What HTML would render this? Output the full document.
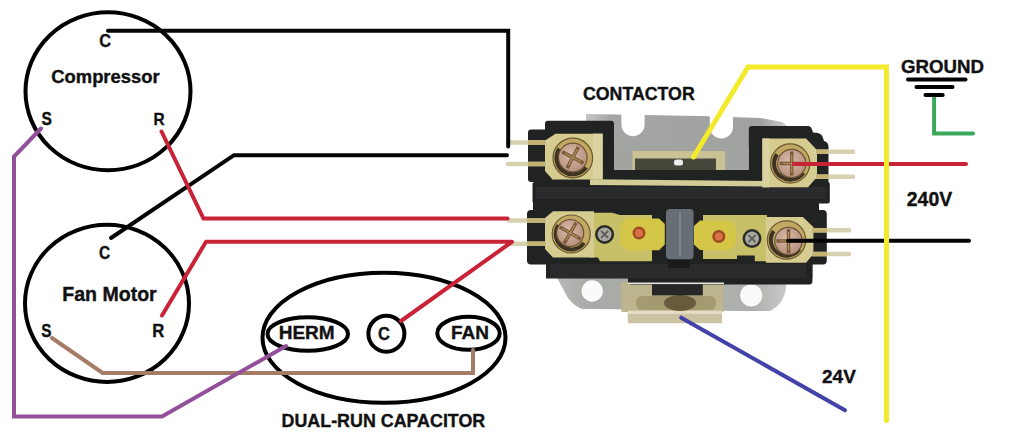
<!DOCTYPE html>
<html><head><meta charset="utf-8"><style>
html,body{margin:0;padding:0;background:#fff;}
svg{display:block;}
text{font-family:"Liberation Sans",sans-serif;font-weight:bold;font-size:100px;fill:#111;stroke:#111;stroke-width:2px;}
</style></head><body>
<svg width="1022" height="442" viewBox="0 0 1022 442">
<rect width="1022" height="442" fill="#fff"/>
<!-- CONTACTOR -->
<!--C-START-->
<g id="contactor">
<defs>
<radialGradient id="wash" cx="0.5" cy="0.5" r="0.5">
<stop offset="0.70" stop-color="#4A3A26"/><stop offset="0.80" stop-color="#B89A52"/><stop offset="0.92" stop-color="#C4A860"/><stop offset="1" stop-color="#4A3C22"/>
</radialGradient>
<radialGradient id="head" cx="0.45" cy="0.4" r="0.6">
<stop offset="0" stop-color="#D8BAAA"/><stop offset="1" stop-color="#B8907E"/>
</radialGradient>
<linearGradient id="grayTop" x1="0" y1="0" x2="1" y2="0">
<stop offset="0" stop-color="#C4C6C4"/><stop offset="0.12" stop-color="#A4A6A4"/><stop offset="0.85" stop-color="#A0A29F"/><stop offset="1" stop-color="#D0D2D0"/>
</linearGradient>
<linearGradient id="grayBot" x1="0" y1="0" x2="1" y2="0">
<stop offset="0" stop-color="#B8B8B6"/><stop offset="0.15" stop-color="#A8AAA8"/><stop offset="0.85" stop-color="#AEB0AE"/><stop offset="1" stop-color="#C8C8C6"/>
</linearGradient>
</defs>
<!-- gray mounting plate top -->
<path fill="url(#grayTop)" d="M586,114 L700,116 L760,118 L782,122 L792,130 L792,176 L586,176 Z"/>
<path fill="#fff" d="M621.4,108 V124.6 A11.6,11.6 0 0 0 644.6,124.6 V108 Z"/>
<path fill="#fff" d="M709.8,108 V126.9 A11.6,11.6 0 0 0 733,126.9 V108 Z"/>
<!-- gray mounting plate bottom -->
<path fill="url(#grayBot)" d="M556,276 L786,276 L786,288 Q784,304 770,311 L736,311 L600,309 L582,309 Q574,306 568,298 Z"/>
<circle fill="#fafafa" cx="592.2" cy="291" r="10.7"/>
<circle fill="#fafafa" cx="751.2" cy="295.4" r="11"/>
<!-- bottom coil bracket -->
<rect x="621.4" y="282" width="101.8" height="30" fill="#BDB58E"/>
<rect x="627.8" y="310" width="94.2" height="13.2" fill="#CAC2A0"/>
<rect x="627.8" y="311" width="94.2" height="3" fill="#E2DCC4"/>
<rect x="636" y="296" width="80" height="14" rx="6" fill="#A49A70"/>
<ellipse cx="680" cy="303" rx="16" ry="8" fill="#6A5A3C"/>
<rect x="652" y="284" width="50.8" height="11.4" fill="#262626"/>
<!-- black housing -->
<g fill="#212322">
<rect x="528" y="129.5" width="24" height="52.5" rx="3"/>
<rect x="545" y="120.8" width="69" height="61.2" rx="3"/>
<rect x="600" y="169.5" width="162" height="14"/>
<path d="M748.8,129 Q748.8,126 752,126 L808,126 Q811,126 812,129.5 L813,132.5 L818,133 Q822,134 823,138 L824,141 Q828.5,142 828.5,147 L828.5,188 Q828.5,191 825,191 L748.8,191 Z"/>
<rect x="532.5" y="182" width="297.3" height="21.6" rx="2"/>
<rect x="533" y="200" width="286" height="13"/>
<rect x="527" y="210" width="299.8" height="54.6" rx="4"/>
<rect x="546" y="250" width="266.4" height="28.5"/>
<rect x="628" y="250" width="184.4" height="34.5" rx="3"/>
</g>
<g fill="#292B2C">
<rect x="536" y="187" width="290" height="12"/>
<rect x="550" y="264" width="256" height="14"/>
</g>
<rect x="668" y="256" width="22" height="12" rx="3" fill="#1A1A1A"/>
<rect x="628" y="282.5" width="96" height="1.6" fill="#E4E4DC"/>
<!-- upper inner gray + coil bracket -->
<rect x="614" y="146" width="134.8" height="24" fill="#A2A4A1"/>
<rect x="632.5" y="151" width="92.5" height="19" fill="#C8C294"/>
<rect x="635" y="158.5" width="81" height="11.5" fill="#46463A"/>
<rect x="674" y="159.5" width="9" height="6" rx="2.5" fill="#EDEDED"/>
<!-- brass strip along U bottom -->
<path fill="#D2CC98" d="M590,179.2 L766,181 L766,186.4 L590,185 Z"/>
<!-- upper-left terminal -->
<path fill="#D6CC90" d="M555.6,133.7 L602.6,133.7 L602.6,179.4 L552.5,179.4 L545,171 L545,140.6 Z"/>
<rect x="593" y="133.7" width="9.6" height="45.7" fill="#DAD3A0"/>
<circle cx="572.8" cy="158" r="19.8" fill="#C2A862" stroke="#6A5830" stroke-width="1.2"/>
<path d="M556.5,158 A16.3,16.3 0 0 0 589.0999999999999,158" fill="none" stroke="#3E3222" stroke-width="4" transform="rotate(35 572.8 158)"/>
<circle cx="572.8" cy="157.5" r="14.3" fill="url(#head)" stroke="#6A5434" stroke-width="1.2"/>
<g transform="translate(572.8 157.5) rotate(28)" stroke-linecap="butt"><path d="M-12,0 H12 M0,-12 V12" stroke="#7A5A38" stroke-width="3.5"/><path d="M-9,0 H9 M0,-9 V9" stroke="#B09058" stroke-width="1.2"/></g>
<!-- upper-right terminal -->
<path fill="#D6CC90" d="M762.4,138.5 L806,138.5 L817,150 L817,177 L808,187.3 L762.4,187.3 Z"/>
<rect x="762.4" y="138.5" width="7" height="48.8" fill="#DAD3A0"/>
<circle cx="790.2" cy="163.5" r="19.6" fill="#C2A862" stroke="#6A5830" stroke-width="1.2"/>
<path d="M774.1,163.5 A16.1,16.1 0 0 0 806.3000000000001,163.5" fill="none" stroke="#3E3222" stroke-width="4" transform="rotate(35 790.2 163.5)"/>
<circle cx="791.7" cy="163.5" r="14.100000000000001" fill="url(#head)" stroke="#6A5434" stroke-width="1.2"/>
<g transform="translate(791.7 163.5) rotate(0)" stroke-linecap="butt"><path d="M-12,0 H12 M0,-12 V12" stroke="#7A5A38" stroke-width="3.5"/><path d="M-9,0 H9 M0,-9 V9" stroke="#B09058" stroke-width="1.2"/></g>
<!-- lower-left terminal + strip -->
<path fill="#C8C068" d="M590,212.8 L612,212.8 L620,215 L652,215 L652,261.3 L600,261.3 L598,257.5 L590,257.5 Z"/>
<path fill="#D6CC90" d="M553,211.2 L594,211.2 L594,257.5 L553,257.5 L545,249 L545,218 Z"/>
<circle cx="571.2" cy="234" r="19" fill="#C2A862" stroke="#6A5830" stroke-width="1.2"/>
<path d="M555.7,234 A15.5,15.5 0 0 0 586.7,234" fill="none" stroke="#3E3222" stroke-width="4" transform="rotate(35 571.2 234)"/>
<circle cx="570.2" cy="233" r="13.5" fill="url(#head)" stroke="#6A5434" stroke-width="1.2"/>
<g transform="translate(570.2 233) rotate(30)" stroke-linecap="butt"><path d="M-12,0 H12 M0,-12 V12" stroke="#7A5A38" stroke-width="3.5"/><path d="M-9,0 H9 M0,-9 V9" stroke="#B09058" stroke-width="1.2"/></g>
<circle cx="604.6" cy="234.4" r="9.5" fill="#2A2A26"/>
<circle cx="604.6" cy="234.4" r="7" fill="#A8A8A0"/>
<path d="M599.6,234.4 H609.6 M604.6,229.4 V239.4" stroke="#5A5A56" stroke-width="1.8" transform="rotate(45 604.6 234.4)"/>
<path fill="#D4C646" d="M627,218.5 L659,218.5 L664.8,224 L664.8,244.5 L659,250.2 L627,250.2 L620.4,244.5 L620.4,224 Z"/>
<circle cx="639" cy="233" r="6.5" fill="#A04A22"/>
<circle cx="639" cy="233" r="4" fill="#D87048"/>
<!-- center button -->
<rect x="666" y="209" width="27.6" height="50.3" rx="4" fill="#686E76"/>
<rect x="679" y="212" width="2" height="44" fill="#80868C"/>
<!-- lower-right terminal + strip -->
<path fill="#C8C068" d="M703,215 L767,215 L767,261.2 L754.8,261.2 L754.8,255.4 L737,255.4 L737,259 L703,259 Z"/>
<path fill="#D6CC90" d="M765.8,217 L802.8,217 L813.4,227 L813.4,254 L806,262.8 L765.8,262.8 Z"/>
<circle cx="786.5" cy="240" r="19.2" fill="#C2A862" stroke="#6A5830" stroke-width="1.2"/>
<path d="M770.8,240 A15.7,15.7 0 0 0 802.2,240" fill="none" stroke="#3E3222" stroke-width="4" transform="rotate(35 786.5 240)"/>
<circle cx="788.5" cy="241" r="13.7" fill="url(#head)" stroke="#6A5434" stroke-width="1.2"/>
<g transform="translate(788.5 241) rotate(0)" stroke-linecap="butt"><path d="M-12,0 H12 M0,-12 V12" stroke="#7A5A38" stroke-width="3.5"/><path d="M-9,0 H9 M0,-9 V9" stroke="#B09058" stroke-width="1.2"/></g>
<circle cx="752" cy="238.6" r="9.5" fill="#2A2A26"/>
<circle cx="752" cy="238.6" r="7" fill="#A8A8A0"/>
<path d="M747.0,238.6 H757.0 M752,233.6 V243.6" stroke="#5A5A56" stroke-width="1.8" transform="rotate(45 752 238.6)"/>
<path fill="#D4C646" d="M700,220.5 L730,220.5 L735.7,226 L735.7,244.5 L730,250 L700,250 L694,244.5 L694,226 Z"/>
<circle cx="718.8" cy="236.4" r="6.5" fill="#A04A22"/>
<circle cx="718.8" cy="236.4" r="4" fill="#D87048"/>
<!-- pins -->
<g stroke="#D6D1AE" stroke-width="4.5" stroke-linecap="round">
<line x1="508" y1="142.5" x2="546" y2="142.5"/>
<line x1="508" y1="164" x2="546" y2="164"/>
<line x1="509" y1="220.6" x2="546" y2="220.6"/>
<line x1="509" y1="243.7" x2="546" y2="243.7"/>
<line x1="816" y1="151.7" x2="853" y2="151.7"/>
<line x1="816" y1="176.7" x2="853" y2="176.7"/>
<line x1="812" y1="230.2" x2="849" y2="230.2"/>
<line x1="812" y1="254.1" x2="849" y2="254.1"/>
</g>
<g stroke="#C4B474" stroke-width="4.5">
<line x1="528" y1="142.5" x2="546" y2="142.5"/>
<line x1="528" y1="164" x2="546" y2="164"/>
<line x1="527" y1="220.6" x2="546" y2="220.6"/>
<line x1="527" y1="243.7" x2="546" y2="243.7"/>
<line x1="816" y1="151.7" x2="828.5" y2="151.7"/>
<line x1="816" y1="176.7" x2="828.5" y2="176.7"/>
<line x1="812" y1="230.2" x2="827" y2="230.2"/>
<line x1="812" y1="254.1" x2="827" y2="254.1"/>
</g>
</g>
<!--C-END-->
<!-- circles -->
<g fill="none" stroke="#000" stroke-width="4">
<ellipse cx="108" cy="91.3" rx="82.5" ry="79"/>
<ellipse cx="107" cy="303.4" rx="82" ry="78.6"/>
<ellipse cx="384" cy="337.7" rx="121.5" ry="65"/>
<ellipse cx="307.75" cy="334" rx="40.25" ry="16.7"/>
<circle cx="386.4" cy="333.7" r="18"/>
<ellipse cx="468.5" cy="333.3" rx="31.2" ry="16.5"/>
</g>
<!-- wires -->
<g fill="none" stroke-width="4" stroke-linejoin="miter" stroke-linecap="round">
<polyline stroke="#050505" points="108,30.8 508.2,30.8 508.2,146.5"/>
<polyline stroke="#050505" points="111,238 234,155.2 507,155.2"/>
<polyline stroke="#C82336" points="161.5,131.5 203.5,218.6 507.5,218.6"/>
<polyline stroke="#C82336" stroke-linejoin="round" points="162,315.5 206,241.8 512,241.8 401,321"/>
<polyline stroke="#A57C66" points="52,338 102.6,373 473,373 473,350"/>
<polyline stroke="#93509A" points="41,128.5 14,156.5 14,416.5 162,416.5 286,346"/>
<polyline stroke="#C82336" points="793.7,164 966,164"/>
<polyline stroke="#050505" points="788,240.8 969,240.8"/>
<polyline stroke="#4242A8" stroke-width="4" points="681.2,317.7 845,410.3"/>
<polyline stroke="#3DA85C" points="934.1,97 934.1,133.6 973,133.6"/>
<polyline stroke="#F2EA2A" stroke-width="5" points="693.5,157 748,67 886.5,67 886.5,420.5"/>
</g>
<g stroke="#000" stroke-width="4" stroke-linecap="round">
<line x1="908" y1="79.5" x2="965.5" y2="79.5"/>
<line x1="916.5" y1="87" x2="952.5" y2="87"/>
<line x1="925.5" y1="95" x2="942.7" y2="95"/>
</g>
<!-- labels -->
<text transform="translate(99.35 47.30) scale(0.1631 0.1814)">C</text>
<text transform="translate(51.26 83.10) scale(0.1841 0.1900)">Compressor</text>
<text transform="translate(41.53 125.20) scale(0.1550 0.1871)">S</text>
<text transform="translate(153.62 125.10) scale(0.1540 0.1739)">R</text>
<text transform="translate(98.98 259.40) scale(0.1538 0.1843)">C</text>
<text transform="translate(62.23 300.50) scale(0.1956 0.1971)">Fan Motor</text>
<text transform="translate(41.34 336.60) scale(0.1533 0.1814)">S</text>
<text transform="translate(152.33 337.10) scale(0.1667 0.1812)">R</text>
<text transform="translate(278.67 339.30) scale(0.1900 0.1884)">HERM</text>
<text transform="translate(378.04 339.60) scale(0.1646 0.1757)">C</text>
<text transform="translate(451.07 339.30) scale(0.1898 0.1812)">FAN</text>
<text transform="translate(281.55 426.70) scale(0.1787 0.1871)">DUAL-RUN CAPACITOR</text>
<text transform="translate(582.99 99.60) scale(0.1775 0.1814)">CONTACTOR</text>
<text transform="translate(901.05 73.30) scale(0.1867 0.1900)">GROUND</text>
<text transform="translate(906.82 206.20) scale(0.1939 0.1943)">240V</text>
<text transform="translate(822.03 383.10) scale(0.1902 0.1929)">24V</text>
</svg>
</body></html>
